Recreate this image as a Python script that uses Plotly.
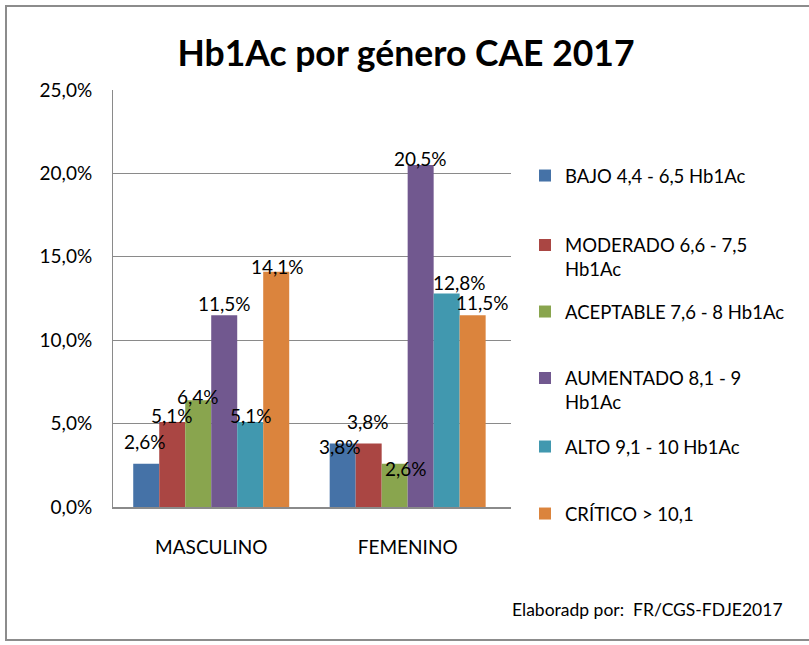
import plotly.graph_objects as go

# ---- data ----
categories = ["MASCULINO", "FEMENINO"]
series_names = [
    "BAJO 4,4 - 6,5 Hb1Ac",
    "MODERADO 6,6 - 7,5<br>Hb1Ac",
    "ACEPTABLE 7,6 - 8 Hb1Ac",
    "AUMENTADO 8,1 - 9<br>Hb1Ac",
    "ALTO 9,1 - 10 Hb1Ac",
    "CRÍTICO > 10,1",
]
bajo = [0.026, 0.038]
moderado = [0.051, 0.038]
aceptable = [0.064, 0.026]
aumentado = [0.115, 0.205]
alto = [0.051, 0.128]
critico = [0.141, 0.115]
y_ticks = [0, 0.05, 0.10, 0.15, 0.20, 0.25]
title_text = "<b>Hb1Ac por género CAE 2017</b>"
source_text = "Elaboradp por:&nbsp; FR/CGS-FDJE2017"

series_values = [bajo, moderado, aceptable, aumentado, alto, critico]

# ---- style ----
W, H = 809, 645
ML, MR, MT, MB = 113, 298, 90, 138
PW, PH = W - ML - MR, H - MT - MB
FONT = "Lato"
colors = ["#4572A7", "#AA4643", "#89A54E", "#71588F", "#4198AF", "#DB843D"]
BARGAP = 0.206
# label offsets (pixels) relative to bar centre / top
label_dx = [[0, -2], [0, 0], [0, 12], [0, 0], [0, 12], [0, 9]]
label_dy = [[22, -3], [6, 22], [4, -5], [12, 7], [6, 11], [5, 13]]
legend_px_y = [176, 257.5, 312, 390.5, 447, 514]
legend_px_x = 525


def px_x(x):
    return (x - ML) / PW


def px_y(y):
    return (H - MB - y) / PH


fig = go.Figure()
n = len(series_values)
bar_px = PW / len(categories) * (1 - BARGAP) / n

annotations = []
for i, (name, vals) in enumerate(zip(series_names, series_values)):
    leg = "legend" if i == 0 else f"legend{i + 1}"
    fig.add_trace(go.Bar(
        x=categories, y=vals, name=name,
        marker=dict(color=colors[i], line=dict(width=0)),
        legend=leg, hoverinfo="skip",
    ))
    for j, v in enumerate(vals):
        annotations.append(dict(
            x=categories[j], y=v, xref="x", yref="y",
            text=f"{v * 100:.1f}%".replace(".", ","),
            showarrow=False, xanchor="center", yanchor="middle",
            xshift=(i - (n - 1) / 2) * bar_px + label_dx[i][j],
            yshift=label_dy[i][j],
            font=dict(family=FONT, size=19, color="black"),
        ))

annotations.append(dict(
    x=px_x(510), y=px_y(609), xref="paper", yref="paper",
    text=source_text, showarrow=False, xanchor="left", yanchor="middle",
    font=dict(family=FONT, size=17.5, color="black"),
))

legends = {}
for i in range(n):
    key = "legend" if i == 0 else f"legend{i + 1}"
    legends[key] = dict(
        x=px_x(legend_px_x), y=px_y(legend_px_y[i]),
        xanchor="left", yanchor="middle",
        font=dict(family=FONT, size=18.5, color="black"),
        bgcolor="rgba(0,0,0,0)", borderwidth=0,
        itemwidth=30, valign="top",
    )

fig.update_layout(
    width=W, height=H,
    margin=dict(l=ML, r=MR, t=MT, b=MB, autoexpand=False),
    paper_bgcolor="white", plot_bgcolor="white",
    separators=",.",
    barmode="group", bargap=BARGAP, bargroupgap=0,
    title=dict(text=title_text, x=406 / W, xref="container", xanchor="center",
               y=1 - 54 / H, yref="container", yanchor="middle",
               font=dict(family=FONT, size=35.5, color="black")),
    annotations=annotations,
    showlegend=True,
    shapes=[dict(type="rect", xref="paper", yref="paper",
                 x0=px_x(6), x1=px_x(830), y0=px_y(640), y1=px_y(6),
                 line=dict(color="#8c8c8c", width=2), layer="above")],
    **legends,
)

fig.update_yaxes(
    range=[0, 0.25], tickvals=y_ticks, tickformat=".1%",
    showgrid=True, gridcolor="#8a8a8a", gridwidth=1,
    showline=True, linecolor="#8a8a8a", linewidth=1,
    ticks="", ticklabelstandoff=16, zeroline=False,
    tickfont=dict(family=FONT, size=19, color="black"),
)
fig.update_xaxes(
    showline=True, linecolor="#8a8a8a", linewidth=2,
    ticks="", ticklabelstandoff=22, showgrid=False,
    tickfont=dict(family=FONT, size=19, color="black"),
)

fig.write_html("out.html", config={"displayModeBar": False},
               post_script="document.body.style.margin='0';")
